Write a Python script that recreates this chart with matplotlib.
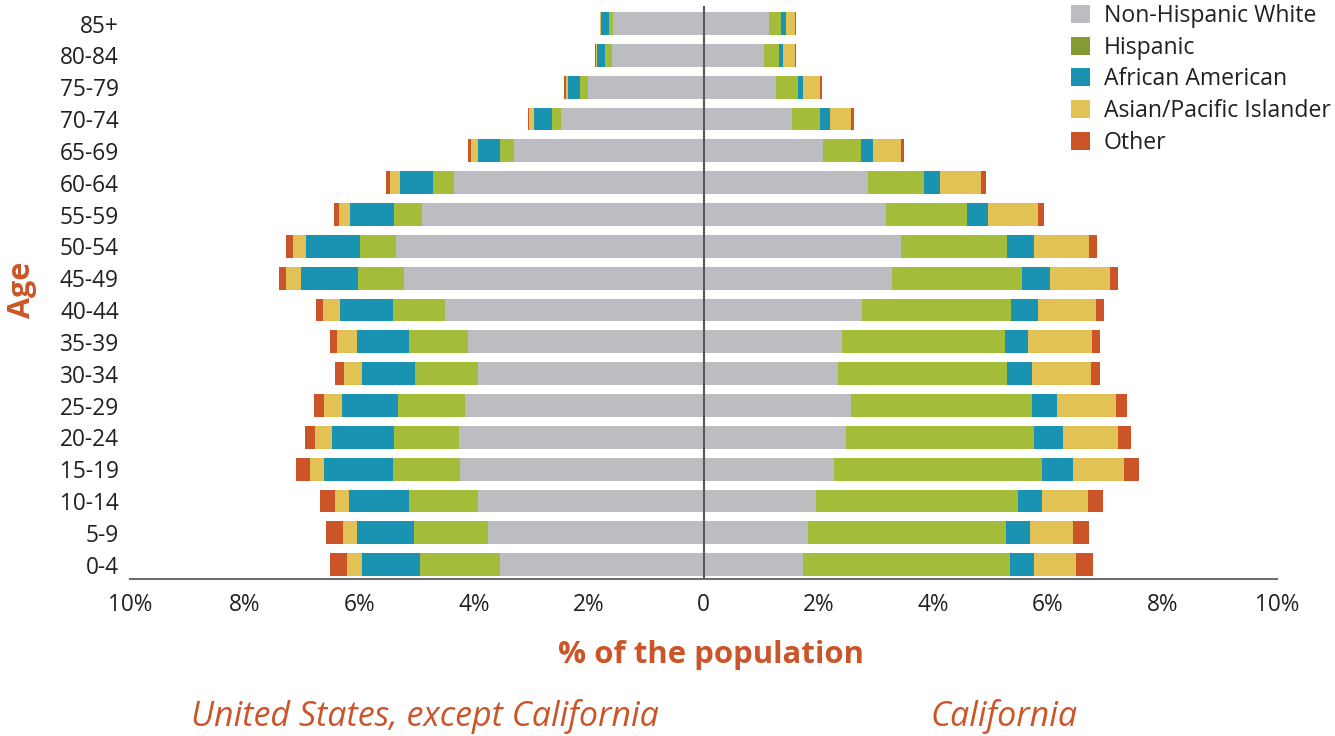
import numpy as np
import matplotlib.pyplot as plt
from matplotlib.patches import Patch

plt.rcParams['font.family'] = ['Open Sans', 'DejaVu Sans']

# age groups, bottom (0-4) to top (85+)
ages = ['0-4', '5-9', '10-14', '15-19', '20-24', '25-29', '30-34', '35-39', '40-44',
        '45-49', '50-54', '55-59', '60-64', '65-69', '70-74', '75-79', '80-84', '85+']
groups = ['Non-Hispanic White', 'Hispanic', 'African American', 'Asian/Pacific Islander', 'Other']

# United States, except California (% of population)
us_white = [3.54, 3.75, 3.94, 4.24, 4.26, 4.15, 3.93, 4.10, 4.50, 5.22, 5.36, 4.90, 4.35, 3.30, 2.48, 2.01, 1.60, 1.57]
us_hisp = [1.40, 1.29, 1.19, 1.17, 1.13, 1.17, 1.10, 1.03, 0.91, 0.80, 0.63, 0.49, 0.37, 0.24, 0.17, 0.14, 0.11, 0.07]
us_afam = [1.01, 1.01, 1.06, 1.20, 1.08, 0.98, 0.92, 0.91, 0.92, 1.00, 0.94, 0.77, 0.58, 0.40, 0.30, 0.21, 0.14, 0.14]
us_asian = [0.26, 0.24, 0.23, 0.25, 0.30, 0.31, 0.32, 0.35, 0.30, 0.26, 0.23, 0.19, 0.17, 0.12, 0.09, 0.03, 0.03, 0.02]
us_other = [0.31, 0.30, 0.26, 0.24, 0.18, 0.18, 0.15, 0.12, 0.12, 0.12, 0.12, 0.09, 0.07, 0.04, 0.02, 0.04, 0.02, 0.01]

# California (% of population)
ca_white = [1.74, 1.83, 1.97, 2.28, 2.49, 2.58, 2.35, 2.41, 2.76, 3.28, 3.45, 3.19, 2.86, 2.09, 1.55, 1.27, 1.06, 1.15]
ca_hisp = [3.61, 3.45, 3.51, 3.63, 3.27, 3.14, 2.95, 2.84, 2.61, 2.27, 1.85, 1.40, 0.99, 0.66, 0.49, 0.37, 0.26, 0.21]
ca_afam = [0.41, 0.41, 0.43, 0.54, 0.50, 0.44, 0.42, 0.40, 0.46, 0.50, 0.47, 0.37, 0.28, 0.21, 0.16, 0.10, 0.07, 0.07]
ca_asian = [0.73, 0.76, 0.79, 0.89, 0.96, 1.03, 1.03, 1.12, 1.02, 1.03, 0.96, 0.87, 0.70, 0.49, 0.38, 0.30, 0.21, 0.17]
ca_other = [0.31, 0.28, 0.26, 0.25, 0.23, 0.19, 0.16, 0.14, 0.14, 0.14, 0.14, 0.10, 0.10, 0.05, 0.04, 0.02, 0.02, 0.02]

xticks = [-10, -8, -6, -4, -2, 0, 2, 4, 6, 8, 10]
xticklabels = ['10%', '8%', '6%', '4%', '2%', '0', '2%', '4%', '6%', '8%', '10%']

colors = ['#bcbdc0', '#a3bd3a', '#1a93b3', '#e2c254', '#cb5528']
legend_colors = ['#bcbdc0', '#849a33', '#1a93b3', '#e2c254', '#cb5528']
orange = '#cb5528'

W, H = 1335, 736
fig = plt.figure(figsize=(W / 100, H / 100), dpi=100)
ax = fig.add_axes([130 / W, 1 - 579 / H, (1277 - 130) / W, (579 - 6) / H])

y = np.arange(len(ages))
h = 0.72
us = [us_white, us_hisp, us_afam, us_asian, us_other]
ca = [ca_white, ca_hisp, ca_afam, ca_asian, ca_other]

left_us = np.zeros(len(ages))
left_ca = np.zeros(len(ages))
for vals_us, vals_ca, c in zip(us, ca, colors):
    vals_us = np.array(vals_us)
    vals_ca = np.array(vals_ca)
    ax.barh(y, -vals_us, left=-left_us, height=h, color=c, linewidth=0)
    ax.barh(y, vals_ca, left=left_ca, height=h, color=c, linewidth=0)
    left_us += vals_us
    left_ca += vals_ca

ax.axvline(0, color='#58595b', lw=1.5)

ax.set_xlim(-10, 10)
ax.set_ylim(-0.45, 17.55)
ax.set_yticks(y)
ax.set_yticklabels(ages)
ax.set_xticks(xticks)
ax.set_xticklabels(xticklabels)
ax.tick_params(axis='both', length=0, labelsize=16.3, colors='#231f20')
ax.tick_params(axis='y', pad=8)
ax.tick_params(axis='x', pad=10)
for s in ['top', 'right', 'left']:
    ax.spines[s].set_visible(False)
ax.spines['bottom'].set_color('#6d6e71')
ax.spines['bottom'].set_linewidth(1.5)

handles = [Patch(facecolor=c, edgecolor='none') for c in legend_colors]
fig.legend(handles, groups, loc='upper left', bbox_to_anchor=(1062 / W, 1 + 5 / H),
           frameon=False, fontsize=16.6, handlelength=0.82, handleheight=0.82,
           handletextpad=0.6, labelspacing=0.33, borderaxespad=0.0,
           labelcolor='#231f20')

fig.text(22 / W, 1 - 290 / H, 'Age', rotation=90, color=orange, fontsize=22,
         fontweight='bold', ha='center', va='center')
fig.text(711 / W, 1 - 655 / H, '% of the population', color=orange, fontsize=22.4,
         fontweight='bold', ha='center', va='center')
fig.text(425 / W, 1 - 716 / H, 'United States, except California', color=orange,
         fontsize=24.5, style='italic', ha='center', va='center')
fig.text(1004 / W, 1 - 716 / H, 'California', color=orange,
         fontsize=24.5, style='italic', ha='center', va='center')

fig.savefig('out.png', dpi=100)
